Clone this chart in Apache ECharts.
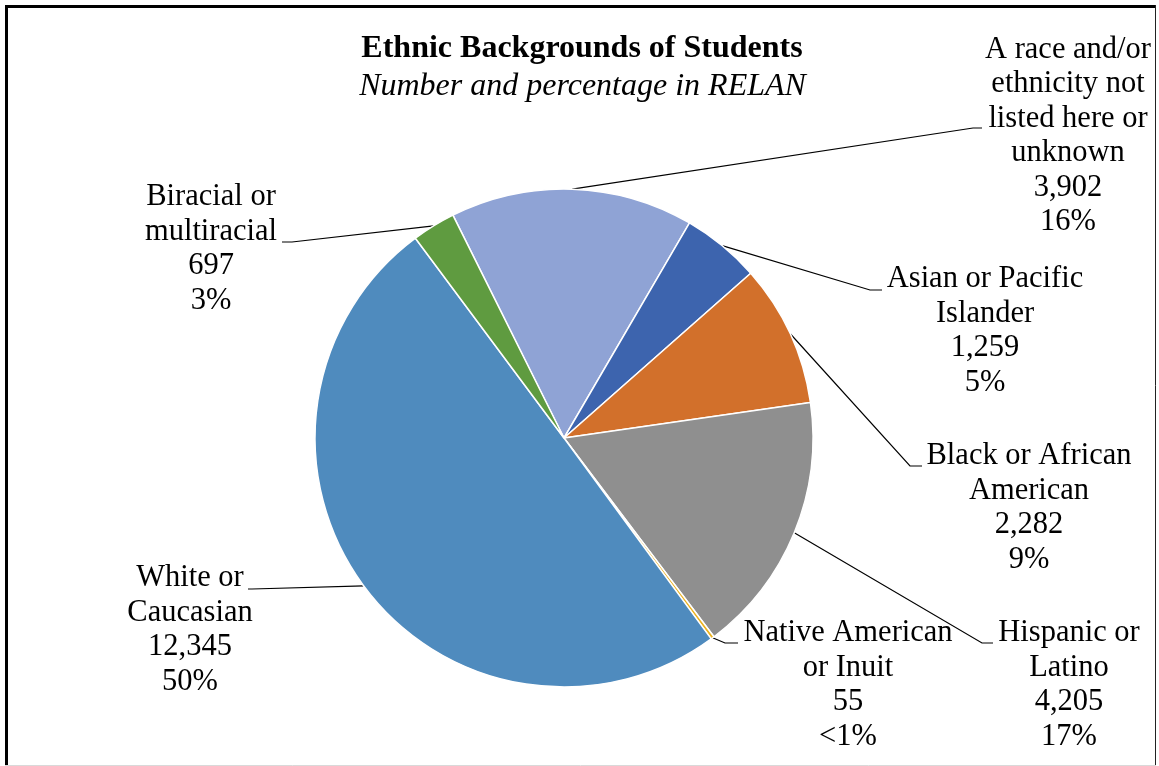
<!DOCTYPE html>
<html>
<head>
<meta charset="utf-8">
<script src="https://cdn.jsdelivr.net/npm/echarts@6/dist/echarts.min.js"></script>
<style>
html,body{margin:0;padding:0;background:#fff;}
#chart{width:1159px;height:766px;}
</style>
</head>
<body>
<div id="chart"></div>
<script>
// ---- data ----
const categories = [
  'A race and/or ethnicity not listed here or unknown',
  'Asian or Pacific Islander',
  'Black or African American',
  'Hispanic or Latino',
  'Native American or Inuit',
  'White or Caucasian',
  'Biracial or multiracial'
];
const labelNames = [
  'A race and/or\nethnicity not\nlisted here or\nunknown',
  'Asian or Pacific\nIslander',
  'Black or African\nAmerican',
  'Hispanic or\nLatino',
  'Native American\nor Inuit',
  'White or\nCaucasian',
  'Biracial or\nmultiracial'
];
const values = [3902, 1259, 2282, 4205, 55, 12345, 697];
const colors = ['#8FA3D5', '#3D64AE', '#D2702B', '#8F8F8F', '#EDB31F', '#4F8BBE', '#5F9B40'];
const titleText = 'Ethnic Backgrounds of Students';
const subtitleText = 'Number and percentage in RELAN';

// ---- layout (label centres and leader-line elbows) ----
const labelPos = [
  {x: 1068, y: 136, elbow: [973, 128], end: [982, 128]},
  {x: 985,  y: 331, elbow: [870, 290], end: [882, 290]},
  {x: 1029, y: 508, elbow: [910, 466], end: [922, 466]},
  {x: 1069, y: 685, elbow: [982, 643], end: [993, 643]},
  {x: 848,  y: 685, elbow: [725, 643], end: [738, 643]},
  {x: 190,  y: 630, elbow: [252, 589], end: [248, 589]},
  {x: 211,  y: 249, elbow: [292, 242], end: [282, 242]}
];

const total = values.reduce((a, b) => a + b, 0);
function pctText(v) {
  const p = v / total * 100;
  return p < 1 ? '<1%' : Math.round(p) + '%';
}

const chart = echarts.init(document.getElementById('chart'), null, {renderer: 'canvas'});
const serif = '"Liberation Serif", "Times New Roman", serif';

chart.setOption({
  animation: false,
  backgroundColor: '#fff',
  graphic: [
    {type: 'text', x: 582, y: 48.5, style: {text: titleText, font: 'bold 32px ' + serif, fill: '#000', align: 'center', verticalAlign: 'middle'}},
    {type: 'text', x: 582.5, y: 86.5, style: {text: subtitleText, font: 'italic 32px ' + serif, fill: '#000', align: 'center', verticalAlign: 'middle'}},
    {type: 'line', shape: {x1: 6.5, y1: 5, x2: 6.5, y2: 766}, style: {stroke: '#000', lineWidth: 3}},
    {type: 'line', shape: {x1: 5, y1: 6.5, x2: 1156, y2: 6.5}, style: {stroke: '#000', lineWidth: 3}},
    {type: 'line', shape: {x1: 1155.5, y1: 5, x2: 1155.5, y2: 766}, style: {stroke: '#222', lineWidth: 1}},
    {type: 'line', shape: {x1: 5, y1: 765.5, x2: 1156, y2: 765.5}, style: {stroke: '#d9d9d9', lineWidth: 1}}
  ],
  series: [{
    type: 'pie',
    center: [564, 438],
    radius: 249,
    startAngle: 116.5,
    clockwise: true,
    avoidLabelOverlap: false,
    silent: true,
    data: values.map((v, i) => ({name: categories[i], value: v, itemStyle: {color: colors[i]}})),
    itemStyle: {borderColor: '#fff', borderWidth: 1.5},
    emphasis: {disabled: true},
    label: {
      show: true,
      position: 'outside',
      formatter: p => labelNames[p.dataIndex] + '\n' + values[p.dataIndex].toLocaleString('en-US') + '\n' + pctText(values[p.dataIndex]),
      fontFamily: serif,
      fontSize: 30.5,
      lineHeight: 34.5,
      color: '#000',
      align: 'center'
    },
    labelLine: {show: true, length: 10, length2: 10, lineStyle: {color: '#000', width: 1.2}},
    labelLayout: function (params) {
      const lp = labelPos[params.dataIndex];
      const start = params.labelLinePoints ? params.labelLinePoints[0] : lp.elbow;
      return {
        x: lp.x,
        y: lp.y,
        align: 'center',
        verticalAlign: 'middle',
        labelLinePoints: [[start[0], start[1]], lp.elbow, lp.end]
      };
    }
  }]
});
</script>
</body>
</html>
